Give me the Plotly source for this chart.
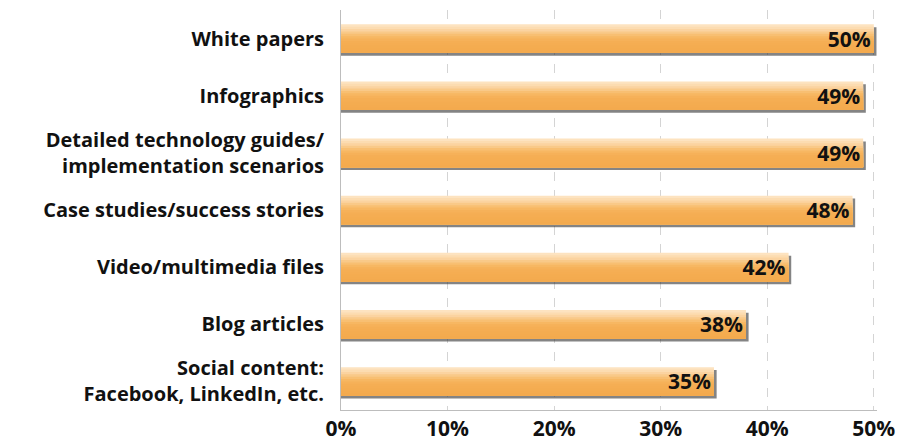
import plotly.graph_objects as go

categories = [
    "White papers",
    "Infographics",
    "Detailed technology guides/<br>implementation scenarios",
    "Case studies/success stories",
    "Video/multimedia files",
    "Blog articles",
    "Social content:<br>Facebook, LinkedIn, etc.",
]
values = [50, 49, 49, 48, 42, 38, 35]
value_labels = ["50%", "49%", "49%", "48%", "42%", "38%", "35%"]
tick_vals = [0, 10, 20, 30, 40, 50]
tick_text = ["0%", "10%", "20%", "30%", "40%", "50%"]

FONT = "Open Sans"
BAR_W = 0.5

fig = go.Figure()

# shadow
fig.add_trace(go.Bar(
    y=categories, x=[v + 0.25 for v in values], orientation="h",
    width=BAR_W, offset=-BAR_W / 2 + 0.05,
    marker=dict(color="rgba(50,50,50,0.6)", line=dict(width=0)),
    hoverinfo="skip", showlegend=False,
))

# gradient (top light -> bottom orange), each layer runs to the bar bottom
stops = ["#fde3c0", "#fcdcb1", "#fbd3a0", "#f9c988", "#f8bf72", "#f7b762",
         "#f6b159", "#f5ae54", "#f5ad52", "#f4ac50", "#f4ab4f", "#f3aa4e"]
n = len(stops)
sw = BAR_W / n
for i, c in enumerate(stops):
    fig.add_trace(go.Bar(
        y=categories, x=values, orientation="h",
        width=BAR_W - i * sw, offset=-BAR_W / 2 + i * sw,
        marker=dict(color=c, line=dict(width=0)),
        hoverinfo="skip", showlegend=False,
    ))

# labels
fig.add_trace(go.Bar(
    y=categories, x=values, orientation="h",
    width=BAR_W, offset=-BAR_W / 2,
    marker=dict(color="rgba(0,0,0,0)", line=dict(width=0)),
    text=value_labels, textposition="inside", insidetextanchor="end",
    textfont=dict(family=FONT, size=21, color="#111111", weight="bold"),
    constraintext="none",
    hoverinfo="skip", showlegend=False,
))

fig.update_layout(
    width=904, height=446,
    margin=dict(l=341, r=27, t=10, b=36),
    paper_bgcolor="white", plot_bgcolor="white",
    barmode="overlay",
    showlegend=False,
    xaxis=dict(
        range=[0, 50.3], tickvals=tick_vals, ticktext=tick_text,
        showgrid=True, gridcolor="#d4d4d4", griddash="dash", gridwidth=1,
        zeroline=False, showline=True, linecolor="#bdbdbd", linewidth=1,
        ticks="", ticklabelstandoff=0, automargin=False,
        tickfont=dict(family=FONT, size=21, color="#111111", weight="bold"),
        fixedrange=True,
    ),
    yaxis=dict(
        autorange="reversed", showgrid=False, zeroline=False,
        showline=True, linecolor="#bdbdbd", linewidth=1,
        ticks="", ticklabelstandoff=12, automargin=False,
        tickfont=dict(family=FONT, size=20, color="#111111", weight="bold"),
    ),
)

fig.write_html("out.html", config={"displayModeBar": False},
               post_script="document.body.style.margin='0';document.body.style.padding='0';")
